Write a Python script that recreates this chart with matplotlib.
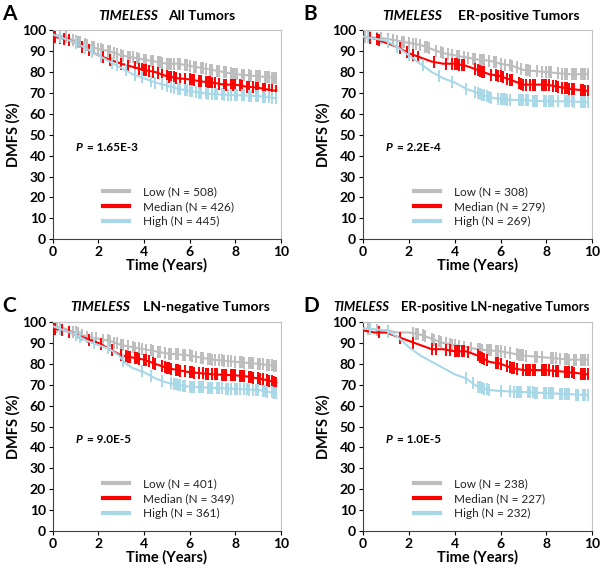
import numpy as np
import matplotlib
matplotlib.use("Agg")
import matplotlib.pyplot as plt

plt.rcParams["font.family"] = ["Lato", "DejaVu Sans"]

# ---- data ----------------------------------------------------------
GROUPS = ["Low", "Median", "High"]
COLORS = {"Low": "#bdbdbd", "Median": "#ff0000", "High": "#a8d8e8"}

# knots of each survival curve: time (years), DMFS (%)
A_low_t = [0, 0.5, 1, 1.5, 2, 2.5, 3, 3.5, 4, 4.5, 5, 5.5, 6, 6.5, 7, 7.5, 8, 8.5, 9, 9.5, 9.8]
A_low_s = [98, 97, 95, 93, 91, 90, 88, 87, 86, 85, 84, 84, 83, 82, 81, 80, 79, 78.5, 78, 77.5, 77]
A_med_t = [0, 0.5, 1, 1.5, 2, 2.5, 3, 3.5, 4, 4.5, 5, 5.5, 6, 6.5, 7, 7.5, 8, 8.5, 9, 9.5, 9.8]
A_med_s = [97, 96, 94, 91, 88, 86, 84, 82.5, 81, 80, 78, 77, 76.5, 75.5, 75, 74, 74, 73, 72.5, 71.5, 71]
A_high_t = [0, 0.5, 1, 1.5, 2, 2.5, 3, 3.5, 4, 4.5, 5, 5.5, 6, 6.5, 7, 8, 9, 9.8]
A_high_s = [98, 96, 94, 91, 88, 85, 82, 79, 77, 75, 73.5, 72, 71, 70, 69.5, 69, 68.5, 67.5]

B_low_t = [0, 1, 1.5, 2, 2.5, 3, 3.5, 4, 4.5, 5, 5.5, 6, 6.5, 7, 7.5, 8, 9, 9.8]
B_low_s = [97, 96, 95, 94, 93, 91, 89, 88, 87, 86, 85.5, 84, 83, 81, 80.5, 80, 79, 79]
B_med_t = [0, 0.5, 1, 1.5, 2, 2.5, 3, 3.5, 4, 4.5, 5, 5.5, 6, 6.5, 7, 8, 8.5, 9, 9.8]
B_med_s = [97, 96, 94, 92, 89, 87, 85, 84, 84, 83, 81, 79, 78, 76, 74, 74, 73, 72, 71]
B_high_t = [0, 0.5, 1, 1.5, 2, 2.5, 3, 3.5, 4, 4.5, 5, 5.5, 6, 7, 8, 9, 9.8]
B_high_s = [97, 96, 95, 92, 88, 84, 80, 77, 75, 72, 70, 68, 67, 66.5, 66, 66, 65.5]

C_low_t = [0, 0.5, 1, 1.5, 2, 2.5, 3, 3.5, 4, 4.5, 5, 5.5, 6, 6.5, 7, 8, 9, 9.8]
C_low_s = [98, 97, 95, 93, 92, 91, 89, 88, 87, 86, 85, 84.5, 84, 83, 82, 81, 80, 79]
C_med_t = [0, 0.5, 1, 1.5, 2, 2.5, 3, 3.5, 4, 4.5, 5, 5.5, 6, 7, 8, 8.5, 9, 9.5, 9.8]
C_med_s = [97, 96, 94, 92, 90, 87, 84, 83, 82, 80, 78, 77, 76, 75, 74.5, 74, 73, 72, 71]
C_high_t = [0, 0.5, 1, 1.5, 2, 2.5, 2.9, 3.2, 3.5, 4, 4.5, 5, 5.5, 6, 7, 8, 9, 9.8]
C_high_s = [98, 96, 94, 91, 89, 87, 84, 80, 78, 76, 73, 71, 70, 69, 68.5, 68, 67.5, 66]

D_low_t = [0, 1, 1.5, 2, 2.5, 3, 3.5, 4, 4.5, 5, 5.5, 6, 6.5, 7, 8, 9, 9.8]
D_low_s = [97, 96, 95, 95, 94, 92, 90, 89, 88, 87, 86.5, 86, 85, 84, 83, 82, 82]
D_med_t = [0, 0.5, 1, 1.5, 2, 2.5, 3, 3.5, 4, 4.5, 5, 5.5, 6, 6.5, 7, 8, 9, 9.8]
D_med_s = [96, 95, 95, 93, 91, 89, 87, 87, 86, 86, 84, 81, 80, 78, 77, 77, 76, 75]
D_high_t = [0, 1, 1.5, 2, 2.5, 3, 3.5, 4, 4.5, 5, 5.5, 6, 7, 8, 9, 9.8]
D_high_s = [97, 96, 93, 88, 84, 81, 78, 75, 73, 69, 67.5, 67, 66.5, 66, 65.5, 65]

# censoring times (years)
A_low_c = [0.1, 0.3, 0.6, 0.9, 1.0, 1.1, 1.2, 1.4, 1.5, 1.7, 1.8, 2.0, 2.1, 2.2, 2.4, 2.5, 2.7, 2.8,
           3.0, 3.1, 3.3, 3.4, 3.5, 3.7, 3.8, 4.0, 4.1, 4.3, 4.4, 4.6, 4.7, 4.8, 5.0, 5.1, 5.2, 5.3,
           5.5, 5.6, 5.8, 5.9, 6.0, 6.2, 6.3, 6.5, 6.6, 6.7, 6.9, 7.0, 7.2, 7.3, 7.5, 7.6, 7.8, 7.9,
           8.0, 8.1, 8.3, 8.4, 8.6, 8.7, 8.9, 9.0, 9.1, 9.3, 9.4, 9.5, 9.6, 9.7, 9.8]
A_med_c = [0.1, 0.3, 0.5, 0.7, 1.3, 1.6, 2.2, 2.5, 3.0, 3.3, 3.6, 3.8, 3.9, 4.0, 4.1, 4.2, 4.4, 4.6,
           4.8, 5.0, 5.1, 5.2, 5.3, 5.4, 5.6, 5.8, 6.0, 6.1, 6.2, 6.4, 6.5, 6.7, 6.8, 6.9, 7.0, 7.1,
           7.3, 7.5, 7.6, 7.8, 7.9, 8.0, 8.2, 8.3, 8.5, 8.6, 8.8, 8.9, 9.0, 9.2, 9.3, 9.5, 9.6, 9.8]
A_high_c = [0.3, 1.0, 1.4, 1.7, 2.1, 2.6, 2.8, 3.2, 3.6, 3.9, 4.3, 4.5, 4.8, 5.0, 5.2, 5.3, 5.5, 5.6,
            5.8, 5.9, 6.0, 6.1, 6.3, 6.4, 6.5, 6.7, 6.8, 7.0, 7.1, 7.2, 7.4, 7.5, 7.7, 7.8, 8.0, 8.1,
            8.3, 8.4, 8.6, 8.7, 8.9, 9.0, 9.2, 9.3, 9.5, 9.6, 9.8]

B_low_c = [0.1, 0.3, 0.6, 0.8, 1.1, 1.3, 1.5, 1.7, 1.8, 2.0, 2.2, 2.3, 2.5, 2.7, 2.8, 2.9, 3.2, 3.4,
           3.5, 3.7, 3.9, 4.1, 4.2, 4.4, 4.6, 4.8, 4.9, 5.1, 5.2, 5.3, 5.5, 5.7, 5.8, 6.0, 6.2, 6.4,
           6.5, 6.7, 6.9, 7.1, 7.2, 7.3, 7.6, 7.8, 8.0, 8.1, 8.2, 8.5, 8.7, 8.8, 8.9, 9.1, 9.2, 9.3,
           9.5, 9.6, 9.7, 9.8]
B_med_c = [0.3, 0.6, 0.7, 1.6, 1.9, 2.2, 2.4, 3.1, 3.6, 3.9, 4.0, 4.1, 4.2, 4.3, 4.4, 4.9, 5.0, 5.1,
           5.2, 5.3, 5.6, 5.8, 5.9, 6.0, 6.1, 6.3, 6.4, 6.5, 6.8, 6.9, 7.0, 7.1, 7.3, 7.4, 7.5, 7.8,
           7.9, 8.0, 8.1, 8.3, 8.4, 8.5, 8.7, 8.8, 8.9, 9.0, 9.1, 9.2, 9.5, 9.6, 9.7, 9.8]
B_high_c = [0.2, 1.1, 1.5, 2.0, 2.6, 3.3, 3.9, 4.5, 4.9, 5.0, 5.1, 5.2, 5.3, 5.4, 5.5, 5.6, 5.9, 6.0,
            6.1, 6.2, 6.3, 6.4, 6.8, 6.9, 7.0, 7.1, 7.2, 7.4, 7.5, 7.6, 7.9, 8.0, 8.1, 8.2, 8.3, 8.5,
            8.8, 8.9, 9.0, 9.1, 9.2, 9.5, 9.6, 9.7, 9.8]

C_low_c = [0.2, 0.9, 1.0, 1.1, 1.3, 1.5, 1.7, 1.9, 2.2, 2.4, 2.5, 2.7, 2.8, 3.0, 3.1, 3.3, 3.5, 3.6,
           3.8, 3.9, 4.1, 4.3, 4.4, 4.6, 4.7, 4.9, 5.1, 5.2, 5.4, 5.5, 5.7, 5.8, 6.0, 6.1, 6.3, 6.5,
           6.6, 6.8, 6.9, 7.0, 7.1, 7.3, 7.4, 7.5, 7.7, 7.8, 8.0, 8.2, 8.3, 8.4, 8.6, 8.7, 8.8, 9.0,
           9.1, 9.2, 9.4, 9.5, 9.6, 9.7, 9.8]
C_med_c = [0.1, 0.4, 0.7, 1.6, 2.1, 2.6, 3.0, 3.2, 3.3, 3.4, 3.6, 3.7, 3.8, 4.0, 4.1, 4.2, 4.4, 4.5,
           4.8, 4.9, 5.0, 5.1, 5.2, 5.4, 5.5, 5.6, 5.8, 6.0, 6.1, 6.2, 6.4, 6.6, 6.7, 6.8, 7.0, 7.1,
           7.2, 7.4, 7.5, 7.6, 7.8, 7.9, 8.0, 8.2, 8.3, 8.4, 8.6, 8.7, 8.8, 9.0, 9.1, 9.2, 9.4, 9.5,
           9.6, 9.7, 9.8]
C_high_c = [0.3, 1.0, 1.2, 1.8, 2.4, 3.1, 3.9, 4.3, 4.8, 5.2, 5.3, 5.4, 5.5, 5.6, 5.7, 5.8, 6.0, 6.1,
            6.2, 6.4, 6.5, 6.6, 6.8, 6.9, 7.0, 7.2, 7.3, 7.4, 7.6, 7.7, 7.8, 8.0, 8.1, 8.2, 8.4, 8.5,
            8.6, 8.8, 8.9, 9.0, 9.2, 9.3, 9.4, 9.6, 9.7, 9.8]

D_low_c = [0.2, 0.6, 1.1, 2.2, 2.3, 2.4, 2.6, 2.7, 3.0, 3.1, 3.3, 3.4, 3.6, 3.8, 3.9, 4.0, 4.2, 4.4,
           4.7, 5.0, 5.1, 5.2, 5.4, 5.5, 5.6, 5.8, 5.9, 6.0, 6.2, 6.4, 6.7, 6.8, 6.9, 7.0, 7.1, 7.5,
           7.6, 7.8, 8.2, 8.3, 8.4, 8.6, 8.8, 8.9, 9.0, 9.2, 9.3, 9.5, 9.6, 9.7, 9.8]
D_med_c = [0.7, 1.6, 2.2, 3.0, 3.2, 3.6, 3.8, 4.0, 4.1, 4.2, 4.3, 4.4, 4.6, 5.0, 5.1, 5.2, 5.3, 5.4,
           5.8, 5.9, 6.0, 6.3, 6.4, 6.5, 6.6, 6.7, 7.0, 7.1, 7.2, 7.3, 7.4, 7.5, 7.8, 7.9, 8.0, 8.1,
           8.3, 8.4, 8.5, 8.8, 8.9, 9.0, 9.1, 9.2, 9.5, 9.6, 9.7, 9.8]
D_high_c = [0.3, 1.1, 4.5, 4.8, 5.0, 5.1, 5.2, 5.3, 5.4, 5.5, 6.0, 6.4, 6.6, 6.7, 6.8, 6.9, 7.2, 7.3,
            7.4, 7.5, 7.6, 7.9, 8.0, 8.1, 8.2, 8.3, 8.6, 8.7, 8.8, 8.9, 9.0, 9.3, 9.4, 9.6, 9.7, 9.8]

PANELS = [
    ("A", "All Tumors", "1.65E-3", [508, 426, 445],
     [(A_low_t, A_low_s, A_low_c), (A_med_t, A_med_s, A_med_c), (A_high_t, A_high_s, A_high_c)]),
    ("B", "ER-positive Tumors", "2.2E-4", [308, 279, 269],
     [(B_low_t, B_low_s, B_low_c), (B_med_t, B_med_s, B_med_c), (B_high_t, B_high_s, B_high_c)]),
    ("C", "LN-negative Tumors", "9.0E-5", [401, 349, 361],
     [(C_low_t, C_low_s, C_low_c), (C_med_t, C_med_s, C_med_c), (C_high_t, C_high_s, C_high_c)]),
    ("D", "ER-positive LN-negative Tumors", "1.0E-5", [238, 227, 232],
     [(D_low_t, D_low_s, D_low_c), (D_med_t, D_med_s, D_med_c), (D_high_t, D_high_s, D_high_c)]),
]

# axes rectangles in figure fraction; title x positions (axes fraction), title size, letter x
RECTS = [(0.088, 0.581, 0.380, 0.366), (0.605, 0.581, 0.382, 0.366),
         (0.088, 0.070, 0.380, 0.366), (0.605, 0.070, 0.382, 0.366)]
TITLE_X = [(0.20, 0.505), (0.085, 0.415), (0.075, 0.395), (-0.13, 0.165)]
TITLE_SIZE = [10, 10, 10, 9.4]
LETTER_X = [0.003, 0.505, 0.003, 0.505]

fig = plt.figure(figsize=(6.0, 5.71), dpi=100)

for (letter, subset, pval, ns, curves), rect, (tx1, tx2), tsize, lx in zip(
        PANELS, RECTS, TITLE_X, TITLE_SIZE, LETTER_X):
    ax = fig.add_axes(rect)
    handles = []
    # high drawn first, low and median on top
    for idx in [2, 0, 1]:
        t, s, c = curves[idx]
        col = COLORS[GROUPS[idx]]
        ax.plot(t, s, color=col, lw=1.5, zorder=2 + idx)
        cy = np.interp(c, t, s)
        ax.plot(c, cy, ls="none", marker="|", ms=8, mew=1.4, color=col, zorder=2 + idx)
    for idx, g in enumerate(GROUPS):
        h, = ax.plot([], [], color=COLORS[g], lw=3, label=f"{g} (N = {ns[idx]})")
        handles.append(h)

    ax.set_xlim(0, 10)
    ax.set_ylim(0, 100)
    ax.set_xticks([0, 2, 4, 6, 8, 10])
    ax.set_yticks(range(0, 101, 10))
    ax.tick_params(direction="out", length=3, width=0.8, labelsize=10, pad=2)
    for lab in ax.get_xticklabels() + ax.get_yticklabels():
        lab.set_fontweight("bold")
    for side in ["top", "right"]:
        ax.spines[side].set_color("#c0c0c0")
    for side in ["left", "bottom"]:
        ax.spines[side].set_color("#404040")
    ax.set_xlabel("Time (Years)", fontsize=10.5, fontweight="bold", labelpad=0)
    ax.set_ylabel("DMFS (%)", fontsize=10.5, fontweight="bold", labelpad=1)

    ax.text(1.0, 44, "P", fontsize=8.5, fontweight="bold", style="italic", va="center")
    ax.text(1.5, 44, f"= {pval}", fontsize=8.5, fontweight="bold", va="center")

    ax.legend(handles=handles, loc="lower left", bbox_to_anchor=(0.19, 0.025),
              borderaxespad=0.2, frameon=False, fontsize=8.5, handlelength=2.2,
              handletextpad=1.2, labelspacing=0.32, labelcolor="#222222")

    # title: italic gene name + subset
    ax.text(tx1, 1.07, "TIMELESS", transform=ax.transAxes, fontsize=tsize,
            fontweight="bold", style="italic", ha="left", va="center")
    ax.text(tx2, 1.07, subset, transform=ax.transAxes, fontsize=tsize,
            fontweight="bold", ha="left", va="center")

    fig.text(lx, rect[1] + rect[3] + 0.028, letter, fontsize=15,
             fontweight="bold", ha="left", va="center")

fig.savefig("out.png", dpi=100)
